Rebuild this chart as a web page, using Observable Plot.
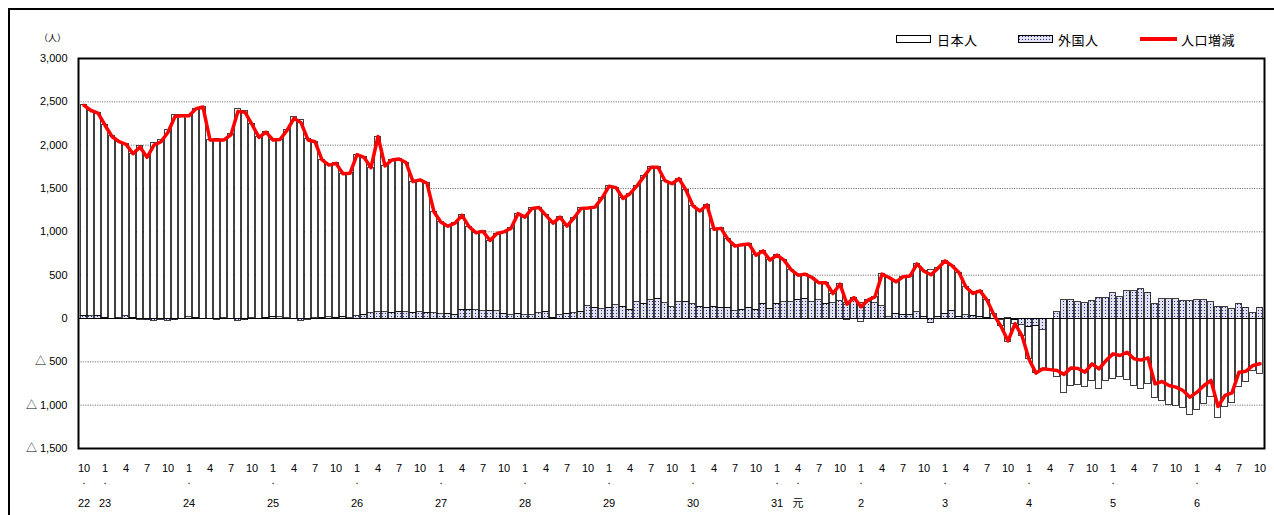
<!DOCTYPE html>
<html><head><meta charset="utf-8">
<script src="https://cdn.jsdelivr.net/npm/d3@7"></script>
<script src="https://cdn.jsdelivr.net/npm/@observablehq/plot@0.6"></script>
<style>
html,body{margin:0;padding:0;background:#fff;}
body{width:1274px;height:515px;overflow:hidden;font-family:"Liberation Sans","Noto Sans CJK JP",sans-serif;}
#wrap{position:relative;width:1274px;height:515px;}
#outer{position:absolute;left:8px;top:8px;width:1300px;height:600px;border-left:2px solid #000;border-top:2px solid #000;}
#chart{position:absolute;left:0;top:0;}
.lg{position:absolute;font-family:"Noto Sans CJK JP",sans-serif;font-size:13px;line-height:13px;color:#000;letter-spacing:0.5px;}
.sw{position:absolute;box-sizing:border-box;}
#unit{position:absolute;left:39px;top:31px;font-family:"Noto Sans CJK JP",sans-serif;font-size:9px;}
</style>
</head><body>
<div id="wrap">
  <div id="outer"></div>
  <div id="chart"></div>
  <div id="unit">（人）</div>
  <div class="sw" style="left:896px;top:35px;width:35px;height:8px;border:1px solid #000;background:#fff;"></div>
  <div class="lg" style="left:937px;top:33px;">日本人</div>
  <svg class="sw" style="left:1018px;top:35px;" width="35" height="8"><defs><pattern id="lgdots" patternUnits="userSpaceOnUse" width="3" height="3"><rect width="3" height="3" fill="#e2e2f5"/><rect x="1" y="1" width="1" height="1" fill="#2b2b80"/></pattern></defs><rect x="0.5" y="0.5" width="34" height="7" fill="url(#lgdots)" stroke="#000"/></svg>
  <div class="lg" style="left:1058px;top:33px;">外国人</div>
  <div class="sw" style="left:1140px;top:37px;width:37px;height:4px;background:#ff0000;"></div>
  <div class="lg" style="left:1181px;top:33px;">人口増減</div>
</div>
<script>
// ---- data (monthly, Oct Heisei 22 (2010) to Oct Reiwa 6 (2024)) ----
const total = [
  2460, 2400, 2370,
  2230, 2100, 2040, 2010, 1900, 1980, 1860, 2000, 2040, 2150, 2330, 2340,
  2340, 2420, 2440, 2060, 2060, 2060, 2120, 2390, 2380, 2240, 2090, 2150,
  2060, 2065, 2170, 2310, 2260, 2060, 2040, 1830, 1770, 1790, 1670, 1675,
  1890, 1860, 1740, 2100, 1760, 1830, 1840, 1800, 1580, 1600, 1560, 1230,
  1110, 1065, 1100, 1190, 1060, 990, 1005, 900, 980, 1000, 1040, 1210,
  1170, 1270, 1280, 1190, 1100, 1170, 1065, 1160, 1270, 1275, 1285, 1390,
  1525, 1510, 1385, 1440, 1530, 1640, 1745, 1745, 1590, 1555, 1615, 1480,
  1300, 1240, 1310, 1030, 1040, 912, 835, 850, 860, 731, 780, 673,
  731, 673, 565, 500, 512, 473, 412, 412, 288, 396, 165, 242,
  135, 212, 250, 512, 473, 423, 481, 490, 630, 545, 505, 580,
  665, 610, 530, 360, 290, 319, 212, 40, -90, -260, -60, -200,
  -470, -630, -580, -590, -600, -645, -570, -577, -619, -523, -581, -485,
  -408, -427, -389, -465, -480, -454, -754, -727, -773, -792, -831, -908,
  -850, -773, -715, -1015, -888, -858, -619, -608, -542, -523
];
const foreign = [
  30, 25, 30,
  10, -10, 5, 25, 10, -15, -20, -25, -15, -25, -20, -10,
  15, 10, -5, -5, -15, 5, -10, -25, -20, 5, -10, 10,
  20, 15, 5, -10, -25, -15, 5, 10, 15, 10, 20, 5,
  25, 45, 62, 70, 75, 65, 80, 70, 65, 75, 65, 60,
  50, 55, 45, 100, 100, 95, 85, 88, 85, 54, 38, 54,
  38, 38, 62, 77, 8, 38, 54, 62, 77, 142, 123, 108,
  123, 154, 138, 100, 188, 169, 208, 227, 177, 131, 185, 196,
  162, 138, 123, 138, 123, 123, 85, 100, 123, 100, 169, 112,
  169, 188, 188, 215, 227, 188, 208, 169, 177, 200, 177, 227,
  177, 185, 177, 140, 15, 54, 46, 46, 73, 23, -55, 20,
  54, 92, 23, 35, 31, 23, 10, -10, -15, 10, -20, -70,
  -100, -90, -130, -5, 75, 210, 208, 190, 177, 200, 238, 238,
  292, 246, 315, 315, 338, 300, 162, 223, 223, 223, 200, 200,
  208, 215, 185, 138, 131, 112, 169, 123, 62, 123
];
const japanese = [
  2430, 2375, 2340,
  2220, 2110, 2035, 1985, 1890, 1995, 1880, 2025, 2055, 2175, 2350, 2350,
  2325, 2410, 2445, 2065, 2075, 2055, 2130, 2415, 2400, 2235, 2100, 2140,
  2040, 2050, 2165, 2320, 2285, 2075, 2035, 1820, 1755, 1780, 1650, 1670,
  1865, 1815, 1678, 2030, 1685, 1765, 1760, 1730, 1515, 1525, 1495, 1170,
  1060, 1010, 1055, 1090, 960, 895, 920, 812, 895, 946, 1002, 1156,
  1132, 1232, 1218, 1113, 1092, 1132, 1011, 1098, 1193, 1133, 1162, 1282,
  1402, 1356, 1247, 1340, 1342, 1471, 1537, 1518, 1413, 1424, 1430, 1284,
  1138, 1102, 1187, 892, 917, 789, 750, 750, 737, 631, 611, 561,
  562, 485, 377, 285, 285, 285, 204, 243, 111, 196, -12, 15,
  -42, 27, 73, 372, 458, 369, 435, 444, 557, 522, 560, 560,
  611, 518, 507, 325, 259, 296, 202, 50, -75, -270, -40, -130,
  -370, -540, -450, -585, -675, -855, -778, -767, -796, -723, -819, -723,
  -700, -673, -704, -780, -818, -754, -916, -950, -996, -1015, -1031, -1108,
  -1058, -988, -900, -1153, -1019, -970, -788, -731, -604, -646
];
// categories: months Oct 2010 .. Oct 2024
const periods = d3.utcMonth.range(new Date(Date.UTC(2010, 9, 1)), new Date(Date.UTC(2024, 10, 1))).map(d3.utcFormat("%Y-%m"));
const monthTickKeys = periods.filter(p => [1, 4, 7, 10].includes(+p.slice(5)));
const yearTickKeys = ["2010-10","2011-01","2012-01","2013-01","2014-01","2015-01","2016-01","2017-01","2018-01","2019-01","2019-04","2020-01","2021-01","2022-01","2023-01","2024-01"];
const yearTickLabels = ["22","23","24","25","26","27","28","29","30","31","元","2","3","4","5","6"];
const yTicks = [3000, 2500, 2000, 1500, 1000, 500, 0, -500, -1000, -1500];
const gridValues = [2500, 2000, 1500, 1000, 500, -500, -1000];

const barRows = [
  ...periods.map((p, i) => ({p, s: "foreign", v: foreign[i]})),
  ...periods.map((p, i) => ({p, s: "japanese", v: japanese[i]}))
];
const lineRows = periods.map((p, i) => ({p, v: total[i]}));
const yearLabelOf = new Map(yearTickKeys.map((k, i) => [k, yearTickLabels[i]]));
const fmt = d3.format(",");

const chart = Plot.plot({
  width: 1274, height: 515,
  marginLeft: 78, marginRight: 10, marginTop: 58, marginBottom: 67,
  style: {fontFamily: '"Liberation Sans","Noto Sans CJK JP",sans-serif', fontSize: "11px", background: "transparent", overflow: "visible"},
  x: {domain: periods, padding: 0, axis: null},
  y: {domain: [-1500, 3000], axis: null},
  color: {type: "identity"},
  marks: [
    Plot.ruleY(gridValues, {stroke: "#777", strokeDasharray: "1.2,1.2", strokeWidth: 1}),
    Plot.barY(barRows, Plot.stackY({
      x: "p", y: "v", z: "s",
      fill: d => d.s === "foreign" ? "url(#dots)" : "#ffffff",
      stroke: "#000", strokeWidth: 0.75, insetLeft: 0.5, insetRight: 0.5,
      shapeRendering: "crispEdges"
    })),
    Plot.ruleY([0], {stroke: "#000", strokeWidth: 1.2}),
    Plot.line(lineRows, {x: "p", y: "v", stroke: "#ff0000", strokeWidth: 3.5, strokeLinejoin: "round", strokeLinecap: "round"}),
    Plot.frame({stroke: "#000", strokeWidth: 2}),
    Plot.axisY(yTicks, {label: null, tickSize: 0, tickPadding: 11, tickFormat: v => v < 0 ? "△ " + fmt(-v) : fmt(v)}),
    Plot.axisX(monthTickKeys, {label: null, tickSize: 0, tickPadding: 16, tickFormat: p => String(+p.slice(5))}),
    Plot.axisX(yearTickKeys, {label: null, tickSize: 0, tickPadding: 28, tickFormat: () => "."}),
    Plot.axisX(yearTickKeys, {label: null, tickSize: 0, tickPadding: 51, tickFormat: p => yearLabelOf.get(p)})
  ]
});
const defs = d3.select(chart).insert("defs", ":first-child");
const pat = defs.append("pattern").attr("id", "dots").attr("patternUnits", "userSpaceOnUse").attr("width", 3).attr("height", 3);
pat.append("rect").attr("width", 3).attr("height", 3).attr("fill", "#e2e2f5");
pat.append("rect").attr("x", 1).attr("y", 1).attr("width", 1).attr("height", 1).attr("fill", "#2b2b80");
document.getElementById("chart").appendChild(chart);
</script>
</body></html>
